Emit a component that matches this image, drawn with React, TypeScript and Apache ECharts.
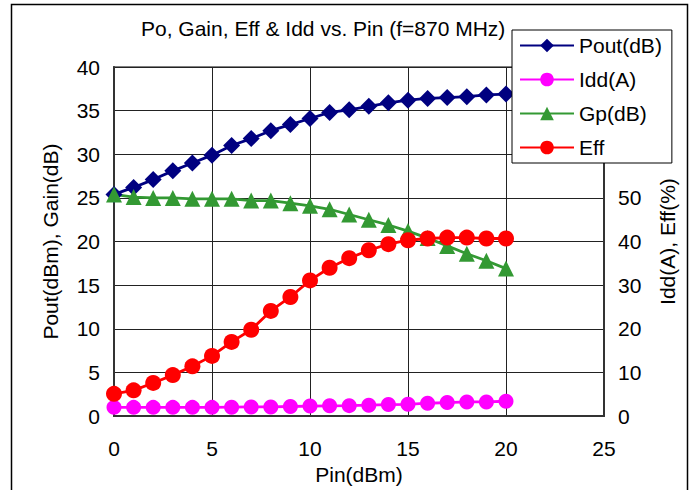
import React, { useEffect, useRef } from "react";
import * as echarts from "echarts";

const pin = [0, 1, 2, 3, 4, 5, 6, 7, 8, 9, 10, 11, 12, 13, 14, 15, 16, 17, 18, 19, 20];
const poutDb = [25.4, 26.2, 27.1, 28.1, 29.0, 29.9, 31.0, 31.8, 32.7, 33.4, 34.1, 34.8, 35.1, 35.5, 35.9, 36.2, 36.4, 36.5, 36.6, 36.8, 36.9];
const iddA = [2.0, 2.0, 2.0, 2.0, 2.0, 2.0, 2.05, 2.1, 2.1, 2.2, 2.3, 2.35, 2.4, 2.5, 2.65, 2.7, 2.95, 3.1, 3.25, 3.25, 3.4];
const gpDb = [25.4, 25.1, 25.0, 25.0, 24.9, 24.9, 24.9, 24.7, 24.7, 24.4, 24.1, 23.7, 23.1, 22.5, 21.9, 21.2, 20.4, 19.5, 18.6, 17.8, 16.9];
const effPct = [5.1, 5.9, 7.6, 9.4, 11.4, 13.8, 17.0, 19.8, 24.1, 27.3, 31.1, 34.0, 36.2, 38.0, 39.4, 40.3, 40.7, 40.9, 40.9, 40.7, 40.7];

const seriesNames = ["Pout(dB)", "Idd(A)", "Gp(dB)", "Eff"];
const titleText = "Po, Gain, Eff & Idd vs. Pin (f=870 MHz)";
const xName = "Pin(dBm)";
const leftName = "Pout(dBm), Gain(dB)";
const rightName = "Idd(A), Eff(%)";
// right-axis labels hidden behind the legend box in the reference
const rightVisibleMax = 50;

const FONT = "Liberation Sans, Arial, sans-serif";
const FS = 21;

export default function App() {
  const ref = useRef<HTMLDivElement>(null);
  useEffect(() => {
    if (!ref.current) return;
    const chart = echarts.init(ref.current, undefined, { renderer: "svg" });
    const pair = (ys: number[]) => pin.map((x, i) => [x, ys[i]]);
    const mk = (name: string, ys: number[], color: string, symbol: string, size: number, yIdx: number) => ({
      name,
      type: "line",
      yAxisIndex: yIdx,
      data: pair(ys),
      symbol,
      symbolSize: size,
      showAllSymbol: true,
      lineStyle: { color, width: 2.8 },
      itemStyle: { color },
    });
    chart.setOption({
      animation: false,
      backgroundColor: "#fff",
      textStyle: { fontFamily: FONT },
      title: {
        text: titleText,
        left: 136,
        top: 13,
        textStyle: { fontFamily: FONT, fontSize: FS, fontWeight: "normal", color: "#000" },
      },
      graphic: [
        {
          type: "rect",
          z: -1,
          shape: { x: 11.5, y: 4.5, width: 676, height: 500 },
          style: { fill: "none", stroke: "#000", lineWidth: 1.5 },
        },
      ],
      legend: {
        orient: "vertical",
        left: 512,
        top: 30,
        itemWidth: 54,
        itemHeight: 17,
        itemGap: 13,
        padding: [5, 10, 5, 7],
        backgroundColor: "#fff",
        borderColor: "#000",
        borderWidth: 1,
        textStyle: { fontFamily: FONT, fontSize: FS, color: "#000", lineHeight: 21 },
        data: seriesNames,
      },
      grid: {
        left: 114,
        right: 88,
        top: 67,
        bottom: 69,
        show: true,
        borderColor: "#808080",
        borderWidth: 2,
      },
      xAxis: {
        type: "value",
        min: 0,
        max: 25,
        interval: 5,
        name: xName,
        nameLocation: "middle",
        nameGap: 42,
        nameTextStyle: { fontFamily: FONT, fontSize: FS, color: "#000" },
        axisLine: { show: true, lineStyle: { color: "#333", width: 2 } },
        axisTick: { show: false },
        axisLabel: { fontFamily: FONT, fontSize: FS, color: "#000", margin: 22 },
        splitLine: { show: true, lineStyle: { color: "#222", width: 1 } },
      },
      yAxis: [
        {
          type: "value",
          min: 0,
          max: 40,
          interval: 5,
          name: leftName,
          nameLocation: "middle",
          nameRotate: 90,
          nameGap: 53,
          nameTextStyle: { fontFamily: FONT, fontSize: FS, color: "#000" },
          axisLine: { show: true, lineStyle: { color: "#333", width: 2 } },
          axisTick: { show: false },
          axisLabel: { fontFamily: FONT, fontSize: FS, color: "#000", margin: 14 },
          splitLine: { show: true, lineStyle: { color: "#222", width: 1 } },
        },
        {
          type: "value",
          min: 0,
          max: 80,
          interval: 10,
          position: "right",
          name: rightName,
          nameLocation: "middle",
          nameRotate: 90,
          nameGap: 53,
          nameTextStyle: { fontFamily: FONT, fontSize: FS, color: "#000" },
          axisLine: { show: true, lineStyle: { color: "#333", width: 2 } },
          axisTick: { show: false },
          axisLabel: {
            fontFamily: FONT,
            fontSize: FS,
            color: "#000",
            margin: 14,
            formatter: (v: number) => (v > rightVisibleMax ? "" : String(v)),
          },
          splitLine: { show: false },
        },
      ],
      series: [
        mk(seriesNames[0], poutDb, "#000080", "diamond", 17, 0),
        mk(seriesNames[1], iddA, "#FF00FF", "circle", 15, 1),
        mk(seriesNames[2], gpDb, "#339933", "triangle", 16, 0),
        mk(seriesNames[3], effPct, "#FF0000", "circle", 16, 1),
      ],
    });
    return () => chart.dispose();
  }, []);
  return <div ref={ref} style={{ position: "absolute", left: 0, top: 0, width: 692, height: 490 }} />;
}
